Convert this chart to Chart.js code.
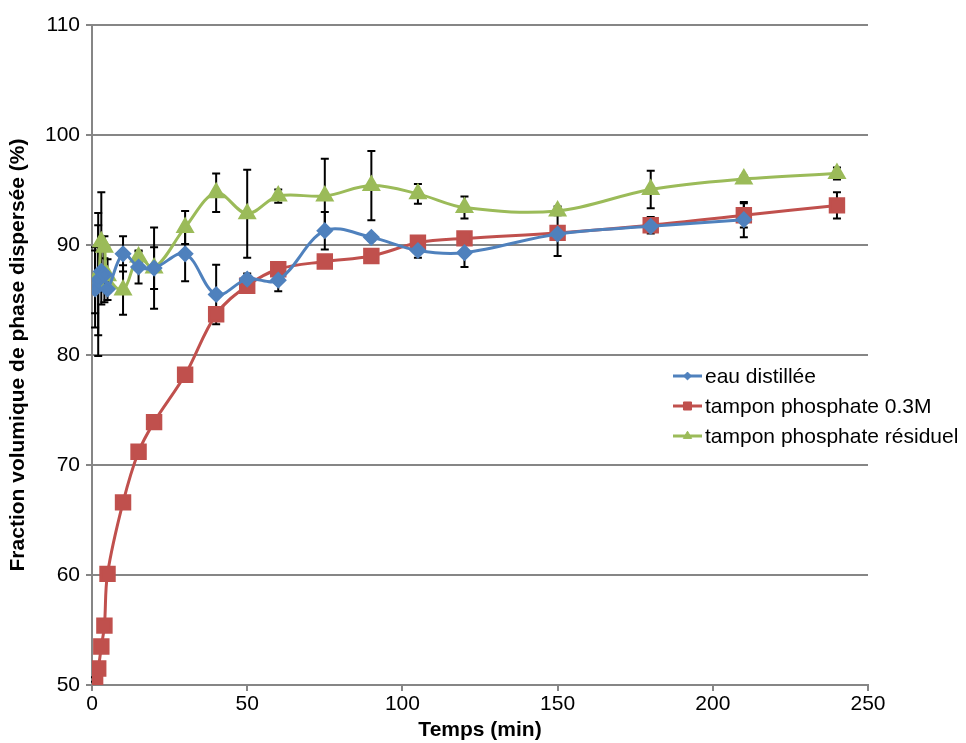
<!DOCTYPE html>
<html>
<head>
<meta charset="utf-8">
<script src="https://cdn.jsdelivr.net/npm/chart.js@4"></script>
<style>
  html, body { margin: 0; padding: 0; background: #fff; }
  #wrap { position: relative; width: 966px; height: 743px; }
</style>
</head>
<body>
<div id="wrap"><canvas id="chart" width="966" height="743"></canvas></div>
<script>
// temps (min)
const timesEau = [1, 2, 3, 4, 5, 10, 15, 20, 30, 40, 50, 60, 75, 90, 105, 120, 150, 180, 210];
const timesPhos = [1, 2, 3, 4, 5, 10, 15, 20, 30, 40, 50, 60, 75, 90, 105, 120, 150, 180, 210, 240];
const timesRes = [1, 2, 3, 4, 5, 10, 15, 20, 30, 40, 50, 60, 75, 90, 105, 120, 150, 180, 210, 240];

// fraction volumique (%)
const eauDistillee = [86.0, 86.8, 87.6, 87.3, 86.0, 89.2, 88.0, 87.9, 89.2, 85.5, 86.9, 86.8, 91.3, 90.7, 89.5, 89.3, 91.0, 91.7, 92.3];
const phosphate03 = [50.5, 51.5, 53.5, 55.4, 60.1, 66.6, 71.2, 73.9, 78.2, 83.7, 86.3, 87.8, 88.5, 89.0, 90.2, 90.6, 91.1, 91.8, 92.7, 93.6];
const residuel = [86.8, 86.4, 90.3, 89.8, 87.2, 85.9, 88.9, 87.9, 91.6, 94.75, 92.85, 94.45, 94.45, 95.4, 94.65, 93.4, 93.1, 95.05, 96.0, 96.5];

// barres d'erreur (+/-)
const errEau = [3.5, 5.0, 3.0, 2.5, 1.0, 1.6, 1.5, 1.9, 2.5, 2.7, 0.5, 1.0, 1.7, 0.3, 0.65, 1.3, 2.0, 0.5, 1.6];
const errPhos = [0.2, 0.2, 0.2, 0.2, 0.2, 0.3, 0.3, 0.3, 0.3, 0.4, 0.4, 0.3, 0.3, 0.3, 0.3, 0.3, 0.6, 0.75, 1.1, 1.2];
const errRes = [3.0, 6.5, 4.5, 1.0, 1.5, 2.25, 0.5, 3.7, 1.5, 1.75, 4.0, 0.6, 3.4, 3.15, 0.9, 1.0, 0.4, 1.7, 0.3, 0.55];

const xTicks = [0, 50, 100, 150, 200, 250];
const yTicks = [50, 60, 70, 80, 90, 100, 110];

const FONT = "'Liberation Sans', Arial, sans-serif";

function pts(xs, ys) {
  return xs.map((x, i) => ({ x: x, y: ys[i] }));
}

const errorBars = {
  id: 'errorBars',
  beforeDatasetsDraw(chart) {
    const ctx = chart.ctx;
    const xs = chart.scales.x, ys = chart.scales.y;
    ctx.save();
    ctx.strokeStyle = '#000';
    ctx.lineWidth = 2;
    chart.data.datasets.forEach(ds => {
      ds.data.forEach((p, i) => {
        const e = ds.errors[i];
        const px = xs.getPixelForValue(p.x);
        const top = ys.getPixelForValue(p.y + e);
        const bot = ys.getPixelForValue(p.y - e);
        ctx.beginPath();
        ctx.moveTo(px, top); ctx.lineTo(px, bot);
        ctx.moveTo(px - 4, top); ctx.lineTo(px + 4, top);
        ctx.moveTo(px - 4, bot); ctx.lineTo(px + 4, bot);
        ctx.stroke();
      });
    });
    ctx.restore();
  }
};

const legendBox = {
  id: 'legendBox',
  afterDraw(chart) {
    const ctx = chart.ctx;
    ctx.save();
    chart.data.datasets.forEach((ds, i) => {
      const y = 376 + i * 30;
      ctx.strokeStyle = ds.borderColor;
      ctx.lineWidth = 3;
      ctx.beginPath();
      ctx.moveTo(673, y); ctx.lineTo(702, y);
      ctx.stroke();
      ctx.fillStyle = ds.backgroundColor;
      ctx.strokeStyle = ds.borderColor;
      ctx.lineWidth = 1;
      Chart.helpers.drawPoint(ctx, { pointStyle: ds.pointStyle, radius: ds.pointRadius * 0.6, borderWidth: 1 }, 687.5, y);
      ctx.fillStyle = '#000';
      ctx.font = '21px ' + FONT;
      ctx.textBaseline = 'middle';
      ctx.fillText(ds.label, 705, y + 1);
    });
    ctx.restore();
  }
};

new Chart(document.getElementById('chart'), {
  type: 'scatter',
  data: {
    datasets: [
      {
        label: 'eau distillée',
        data: pts(timesEau, eauDistillee),
        errors: errEau,
        borderColor: '#4F81BD',
        backgroundColor: '#4F81BD',
        pointStyle: 'rectRot',
        pointRadius: 6.5,
        showLine: true,
        borderWidth: 3,
        tension: 0.35
      },
      {
        label: 'tampon phosphate 0.3M',
        data: pts(timesPhos, phosphate03),
        errors: errPhos,
        borderColor: '#C0504D',
        backgroundColor: '#C0504D',
        pointStyle: 'rect',
        pointRadius: 9.5,
        showLine: true,
        borderWidth: 3,
        tension: 0.35
      },
      {
        label: 'tampon phosphate résiduel',
        data: pts(timesRes, residuel),
        errors: errRes,
        borderColor: '#9BBB59',
        backgroundColor: '#9BBB59',
        pointStyle: 'triangle',
        pointRadius: 8,
        showLine: true,
        borderWidth: 3,
        tension: 0.35
      }
    ]
  },
  options: {
    responsive: false,
    animation: false,
    layout: { padding: { top: 25, right: 98, left: 0, bottom: 0 } },
    plugins: {
      legend: { display: false },
      tooltip: { enabled: false }
    },
    scales: {
      x: {
        type: 'linear',
        min: 0,
        max: 250,
        afterBuildTicks: axis => { axis.ticks = xTicks.map(v => ({ value: v })); },
        afterFit: axis => { axis.height = 58; },
        grid: { drawOnChartArea: false, drawTicks: true, tickLength: 6, color: '#868686', lineWidth: 2 },
        border: { color: '#868686', width: 2 },
        ticks: { color: '#000', font: { family: FONT, size: 21 }, padding: 1, maxRotation: 0 },
        title: { display: true, text: 'Temps (min)', color: '#000', font: { family: FONT, size: 21, weight: 'bold' }, padding: { top: 0, bottom: 0 } }
      },
      y: {
        min: 50,
        max: 110,
        afterBuildTicks: axis => { axis.ticks = yTicks.map(v => ({ value: v })); },
        afterFit: axis => { axis.width = 92; },
        grid: { color: '#868686', lineWidth: 2, tickLength: 6 },
        border: { color: '#868686', width: 2 },
        ticks: { color: '#000', font: { family: FONT, size: 21 }, padding: 6 },
        title: { display: true, text: 'Fraction volumique de phase dispersée (%)', color: '#000', font: { family: FONT, size: 21, weight: 'bold' }, padding: { top: 6, bottom: 0 } }
      }
    }
  },
  plugins: [errorBars, legendBox]
});
</script>
</body>
</html>
